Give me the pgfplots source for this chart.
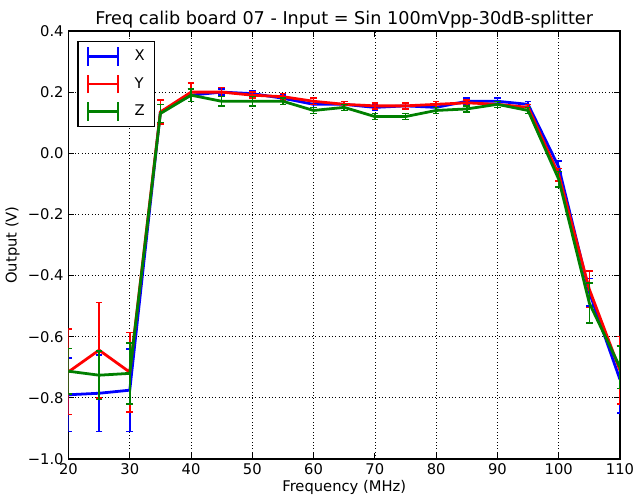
\documentclass[border=0pt]{standalone}
\usepackage{pgfplots}
\pgfplotsset{compat=1.18}
\usepackage{fontspec}
\setmainfont{DejaVu Sans}
\definecolor{mplgreen}{rgb}{0,0.5,0}

\pgfplotstableread{
x y e
20 -0.790 0.12
25 -0.785 0.125
30 -0.775 0.135
35 0.135 0.04
40 0.190 0.02
45 0.200 0.010
50 0.195 0.010
55 0.180 0.010
60 0.160 0.010
65 0.160 0.010
70 0.150 0.010
75 0.155 0.010
80 0.150 0.010
85 0.170 0.010
90 0.170 0.010
95 0.160 0.010
100 -0.045 0.02
105 -0.455 0.045
110 -0.740 0.11
}\datax

\pgfplotstableread{
x y e
20 -0.715 0.14
25 -0.644 0.156
30 -0.716 0.13
35 0.135 0.04
40 0.200 0.03
45 0.200 0.015
50 0.190 0.010
55 0.185 0.010
60 0.170 0.010
65 0.160 0.010
70 0.155 0.010
75 0.155 0.010
80 0.160 0.010
85 0.165 0.010
90 0.160 0.010
95 0.150 0.010
100 -0.070 0.02
105 -0.445 0.06
110 -0.710 0.11
}\datay

\pgfplotstableread{
x y e
20 -0.713 0.075
25 -0.726 0.08
30 -0.720 0.10
35 0.130 0.03
40 0.190 0.02
45 0.170 0.015
50 0.170 0.015
55 0.170 0.010
60 0.140 0.010
65 0.150 0.010
70 0.120 0.010
75 0.120 0.010
80 0.140 0.010
85 0.145 0.010
90 0.160 0.010
95 0.140 0.010
100 -0.085 0.025
105 -0.490 0.065
110 -0.700 0.07
}\dataz

\begin{document}
\begin{tikzpicture}
\useasboundingbox (-49.3pt,-27.4pt) rectangle (407.1pt,330.4pt);
\begin{axis}[
  scale only axis,
  width=397pt, height=308.1pt,
  xmin=20, xmax=110, ymin=-1.0, ymax=0.4,
  xtick={20,30,...,110},
  ytick={-1.0,-0.8,-0.6,-0.4,-0.2,0.0,0.2,0.4},
  yticklabels={−1.0,−0.8,−0.6,−0.4,−0.2,0.0,0.2,0.4},
  /pgf/number format/assume math mode=true,
  tick align=inside,
  major tick length=4pt,
  tick style={black, line width=0.6pt},
  axis line style={black, line width=1pt},
  grid=major,
  grid style={black, dotted, line width=0.5pt},
  ticklabel style={font=\fontsize{10.6}{12.7}\selectfont},
  title={Freq calib board 07 - Input = Sin 100mVpp-30dB-splitter},
  title style={font=\fontsize{12.7}{15}\selectfont, yshift=-7.5pt},
  xlabel={Frequency (MHz)},
  ylabel={Output (V)},
  label style={font=\fontsize{10.6}{12.7}\selectfont},
  xlabel style={yshift=3pt},
  ylabel style={yshift=-1pt},
  legend style={at={(0.0163,0.9766)}, anchor=north west, draw=black, line width=1pt,
    font=\fontsize{10.6}{12.7}\selectfont, row sep=5.7pt, column sep=10pt,
    nodes={inner sep=1pt}, inner xsep=6pt, inner ysep=3.6pt},
  legend cell align=left,
  legend image code/.code={
    \draw[#1, line width=2pt] (0pt,0pt) -- (21.6pt,0pt);
    \draw[#1, line width=1.1pt] (0pt,-6.5pt) -- (0pt,6.5pt);
    \draw[#1, line width=1.1pt] (21.6pt,-6.5pt) -- (21.6pt,6.5pt);
  },
  every axis plot/.append style={line width=2pt, mark=none},
  error bars/y dir=both,
  error bars/y explicit,
  error bars/error bar style={line width=1.1pt},
  error bars/error mark options={rotate=90, mark size=2.4pt, line width=1.1pt},
]
\addplot[blue] table[x=x, y=y, y error=e] {\datax};
\addlegendentry{X}
\addplot[red] table[x=x, y=y, y error=e] {\datay};
\addlegendentry{Y}
\addplot[mplgreen] table[x=x, y=y, y error=e] {\dataz};
\addlegendentry{Z}
\end{axis}
\end{tikzpicture}
\end{document}
